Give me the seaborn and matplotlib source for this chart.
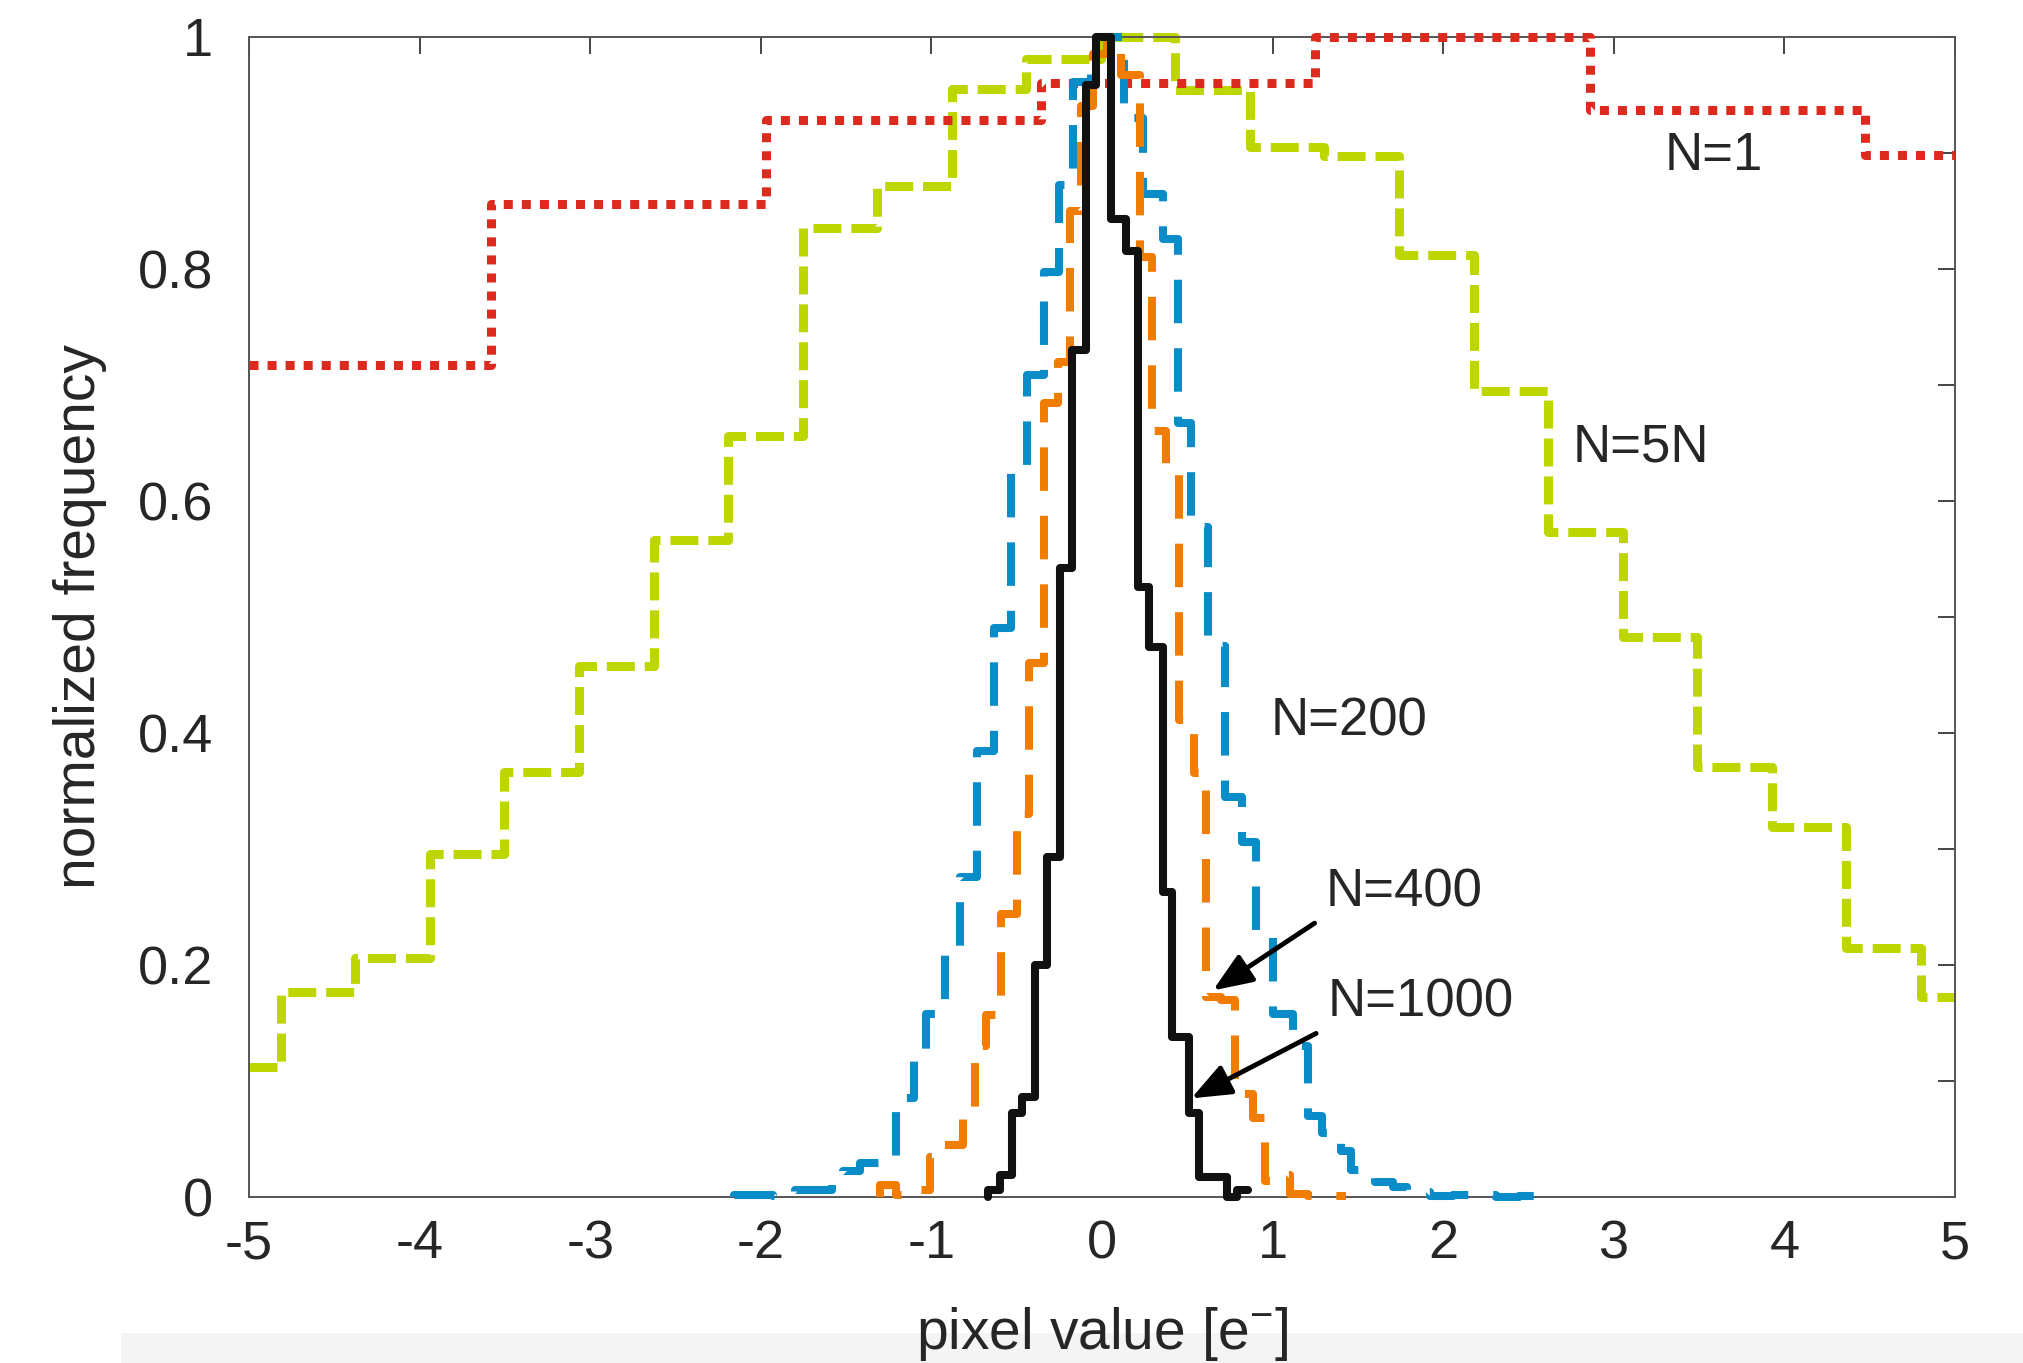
import numpy as np
import pandas as pd
import matplotlib
matplotlib.use("Agg")
import matplotlib.pyplot as plt
from matplotlib.patches import Rectangle
import seaborn as sns

# --- data: bin edges (pixel value) and normalized bin heights ---
red_edges = [-5.19, -3.58, -1.97, -0.36, 1.25, 2.86, 4.47, 6.08]
red_heights = [0.717, 0.856, 0.928, 0.960, 1.0, 0.937, 0.898]

green_edges = [-5.251, -4.814, -4.377, -3.94, -3.503, -3.066, -2.629, -2.192, -1.755,
               -1.318, -0.881, -0.444, -0.007, 0.43, 0.867, 1.304, 1.741, 2.178,
               2.615, 3.052, 3.489, 3.926, 4.363, 4.80, 5.237]
green_heights = [0.112, 0.177, 0.206, 0.296, 0.366, 0.458, 0.566, 0.656, 0.835, 0.871,
                 0.955, 0.981, 1.0, 0.954, 0.905, 0.897, 0.812, 0.695, 0.573, 0.483,
                 0.371, 0.319, 0.215, 0.172]

blue_edges = [-2.16, -1.93, -1.80, -1.58, -1.52, -1.42, -1.21, -1.10, -1.03, -0.92,
              -0.83, -0.735, -0.632, -0.532, -0.441, -0.34, -0.253, -0.171, -0.063,
              0.03, 0.13, 0.24, 0.357, 0.444, 0.52, 0.62, 0.72, 0.82, 0.90, 1.00,
              1.12, 1.206, 1.29, 1.40, 1.46, 1.60, 1.705, 1.79, 1.92, 2.056, 2.31,
              2.447, 2.56]
blue_heights = [0.002, 0.001, 0.006, 0.013, 0.022, 0.029, 0.085, 0.12, 0.158, 0.215,
                0.276, 0.384, 0.49, 0.63, 0.708, 0.797, 0.872, 0.961, 0.985, 1.0,
                0.93, 0.864, 0.826, 0.667, 0.577, 0.475, 0.345, 0.306, 0.224, 0.158,
                0.13, 0.07, 0.055, 0.04, 0.023, 0.013, 0.009, 0.004, 0.001, 0.002,
                0.0, 0.001]

orange_edges = [-1.30, -1.21, -1.12, -1.01, -0.93, -0.816, -0.747, -0.68, -0.59, -0.50,
                -0.43, -0.34, -0.26, -0.19, -0.122, -0.05, 0.03, 0.112, 0.225, 0.294,
                0.376, 0.454, 0.542, 0.61, 0.70, 0.777, 0.884, 0.955, 1.01, 1.10,
                1.21, 1.43]
orange_heights = [0.01, 0.002, 0.006, 0.0345, 0.045, 0.075, 0.13, 0.157, 0.244, 0.33,
                  0.46, 0.684, 0.72, 0.85, 0.94, 0.985, 1.0, 0.967, 0.81, 0.66,
                  0.622, 0.411, 0.365, 0.172, 0.17, 0.089, 0.068, 0.014, 0.019, 0.003,
                  0.001]

black_edges = [-0.67, -0.60, -0.53, -0.47, -0.39, -0.32, -0.245, -0.175, -0.095, -0.035,
               0.05, 0.14, 0.21, 0.275, 0.355, 0.41, 0.51, 0.57, 0.65, 0.73, 0.79, 0.855]
black_heights = [0.006, 0.019, 0.072, 0.086, 0.20, 0.293, 0.542, 0.73, 0.958, 1.0,
                 0.843, 0.815, 0.526, 0.474, 0.263, 0.138, 0.072, 0.017, 0.017, 0.0,
                 0.006]

x_ticks = [-5, -4, -3, -2, -1, 0, 1, 2, 3, 4, 5]
y_ticks = [0, 0.1, 0.2, 0.3, 0.4, 0.5, 0.6, 0.7, 0.8, 0.9, 1.0]
y_tick_labels = ["0", "", "0.2", "", "0.4", "", "0.6", "", "0.8", "", "1"]


def step_frame(edges, heights, from_zero=False):
    """Turn bin edges/heights into a frame that draws as steps-post, clipped to the axes."""
    x = list(np.clip(edges, -5, 5))
    y = list(heights) + [heights[-1]]
    if from_zero:
        x = [x[0]] + x
        y = [0.0] + y
    return pd.DataFrame({"x": x, "y": y})


sns.set_style("white")
plt.rcParams["font.family"] = ["Liberation Sans", "DejaVu Sans"]
plt.rcParams["axes.unicode_minus"] = False
plt.rcParams["mathtext.fontset"] = "custom"
plt.rcParams["mathtext.rm"] = "Liberation Sans"
plt.rcParams["mathtext.it"] = "Liberation Sans:italic"
plt.rcParams["mathtext.sf"] = "Liberation Sans"

fig = plt.figure(figsize=(20.23, 13.63), dpi=100)
# faint grey strip along the bottom edge of the scanned figure
fig.patches.append(Rectangle((0.06, 0), 0.94, 0.022, transform=fig.transFigure,
                             facecolor="#f4f4f4", edgecolor="none", zorder=-5))
ax = fig.add_axes([0.1231, 0.1218, 0.8433, 0.8513])
ax.set_zorder(1)
ax.patch.set_alpha(0)

series = [
    (green_edges, green_heights, False, "#bdd600", (0, (3.1, 1.1)), 6.5, 2),
    (red_edges, red_heights, False, "#dc2a1e", (0, (1.0, 1.0)), 6.5, 3),
    (blue_edges, blue_heights, True, "#0a8cc8", (0, (5.4, 3.1)), 5.8, 4),
    (orange_edges, orange_heights, True, "#f07d00", (0, (5.4, 3.1)), 5.8, 5),
    (black_edges, black_heights, True, "#111111", "-", 5.8, 6),
]
for edges, heights, from_zero, color, ls, lw, z in series:
    df = step_frame(edges, heights, from_zero)
    sns.lineplot(data=df, x="x", y="y", ax=ax, estimator=None, sort=False,
                 drawstyle="steps-post", color=color, linestyle=ls, linewidth=lw,
                 clip_on=False, zorder=z)

ax.set_xlim(-5, 5)
ax.set_ylim(0, 1)
ax.set_xticks(x_ticks)
ax.set_xticklabels([str(t) for t in x_ticks])
ax.set_yticks(y_ticks)
ax.set_yticklabels(y_tick_labels)
ax.tick_params(direction="in", length=12, width=1.4, color="#444444",
               top=True, right=True, labelsize=39)
ax.tick_params(axis="x", pad=16)
ax.tick_params(axis="y", pad=26)
for sp in ax.spines.values():
    sp.set_color("#555555")
    sp.set_linewidth(1.4)

ax.set_xlabel("pixel value [e$^{-}$]", fontsize=41, labelpad=26)
ax.set_ylabel("normalized frequency", fontsize=41, labelpad=22)

# curve labels and arrows
ax.text(3.30, 0.897, "N=1", fontsize=38, va="center", ha="left", zorder=10)
ax.text(2.76, 0.646, "N=5N", fontsize=38, va="center", ha="left", zorder=10)
ax.text(0.99, 0.41, "N=200", fontsize=38, va="center", ha="left", zorder=10)
ax.text(1.31, 0.262, "N=400", fontsize=38, va="center", ha="left", zorder=10)
ax.text(1.32, 0.168, "N=1000", fontsize=38, va="center", ha="left", zorder=10)

arrow_kw = dict(arrowstyle="-|>,head_length=0.6,head_width=0.24", color="black",
                lw=3.5, mutation_scale=40, shrinkA=0, shrinkB=0)
ax.annotate("", xy=(0.65, 0.178), xytext=(1.246, 0.236), arrowprops=arrow_kw, zorder=10)
ax.annotate("", xy=(0.523, 0.085), xytext=(1.255, 0.141), arrowprops=arrow_kw, zorder=10)

fig.savefig("out.png", dpi=100)
